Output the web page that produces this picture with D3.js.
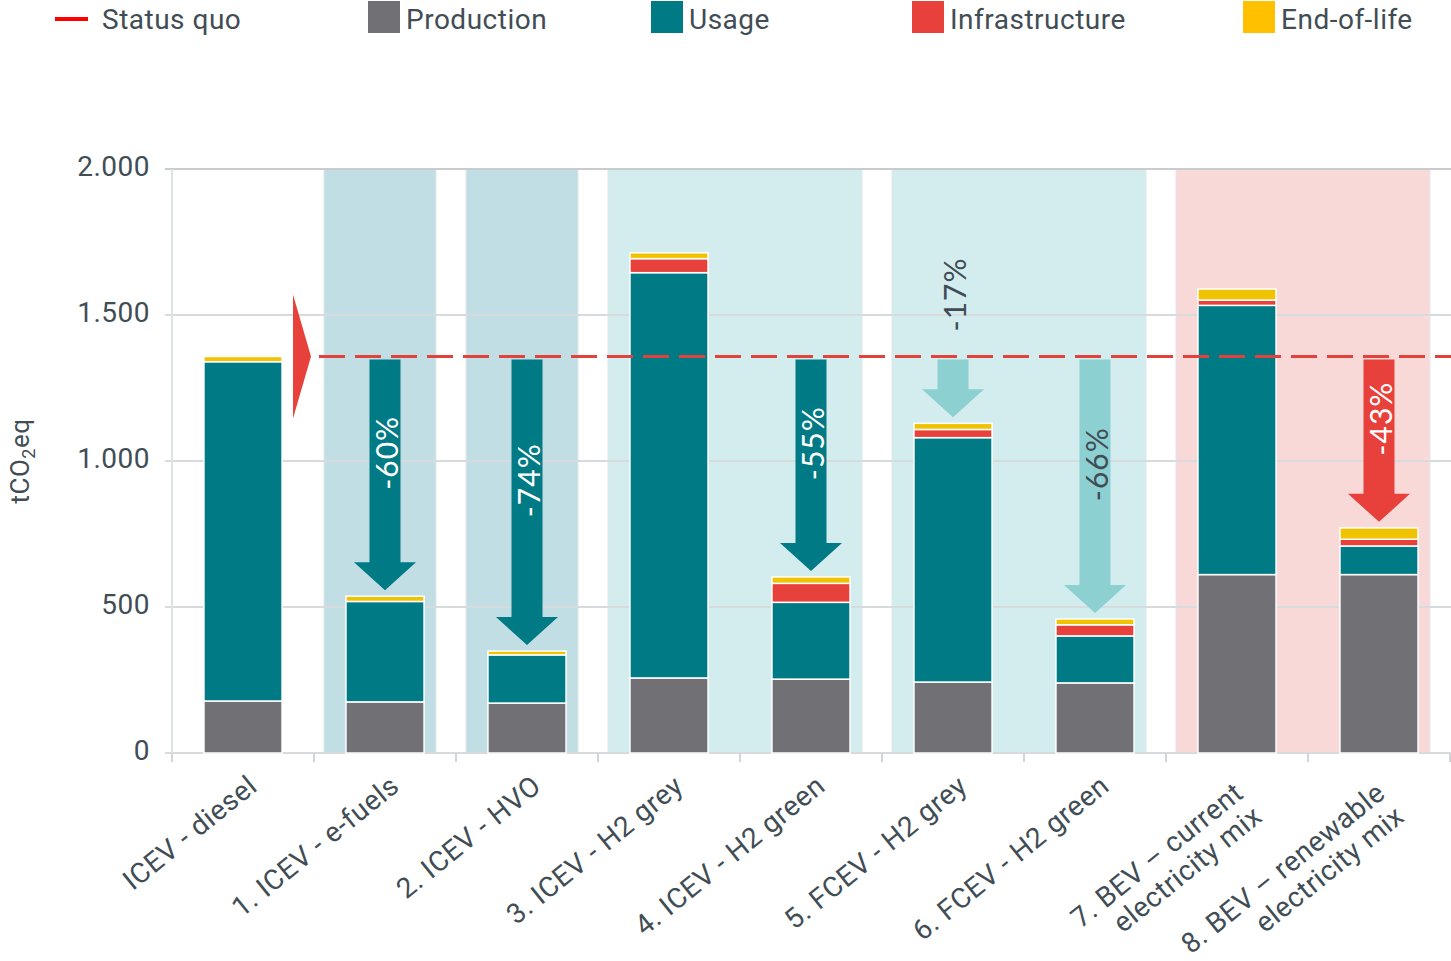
<!DOCTYPE html>
<html>
<head>
<meta charset="utf-8">
<script src="https://cdn.jsdelivr.net/npm/d3@7"></script>
<style>
  body { margin: 0; background: #fff; }
  text { font-family: Roboto, "Noto Sans", sans-serif; fill: #414d55; letter-spacing: 0.5px; }
</style>
</head>
<body>
<div class="container"></div>
<script>
// chart values
var categories = [
  ["ICEV - diesel"],
  ["1. ICEV - e-fuels"],
  ["2. ICEV - HVO"],
  ["3. ICEV - H2 grey"],
  ["4. ICEV - H2 green"],
  ["5. FCEV - H2 grey"],
  ["6. FCEV - H2 green"],
  ["7. BEV \u2013 current", "electricity mix"],
  ["8. BEV \u2013 renewable", "electricity mix"]
];
var production     = [178, 175, 171, 257, 253, 243, 240, 611, 611];
var usage          = [1162, 344, 165, 1388, 263, 837, 161, 922, 98];
var infrastructure = [0, 0, 0, 48, 65, 28, 38, 18, 23];
var endOfLife      = [18, 18, 13, 20, 22, 21, 20, 38, 39];
var statusQuo = 1358;

var yTicks = [0, 500, 1000, 1500, 2000];

// reduction arrows: which bar, label, style
var arrowBars   = [1, 2, 4, 5, 6, 8];
var arrowLabels = ["-60%", "-74%", "-55%", "-17%", "-66%", "-43%"];
var arrowStyles = ["dark", "dark", "dark", "light", "light", "red"];

// shaded background groups (first and last bar index)
var shadeGroups = [[1, 1], [2, 2], [3, 4], [5, 6], [7, 8]];
var shadeStyles = ["blue", "blue", "teal", "teal", "pink"];

var seriesKeys  = ["production", "usage", "infrastructure", "eol"];
var seriesNames = ["Production", "Usage", "Infrastructure", "End-of-life"];

//-------------------------------------------------------------
var svgWidth = 1451;
var svgHeight = 961;

var plot = { left: 172, right: 1450, top: 169, bottom: 753 };

var colors = {
  production: "#717175",
  usage: "#007a84",
  infrastructure: "#e8403a",
  eol: "#f0c300"
};
var arrowColors = { dark: "#007a84", light: "#8dd0d2", red: "#e8403a" };
var arrowTextColors = { dark: "#ffffff", light: "#414d55", red: "#ffffff" };
var shadeColors = { blue: "#c2dee5", teal: "#d3ecee", pink: "#f9d9d8" };

var svg = d3.select(".container")
  .append("svg")
  .attr("width", svgWidth)
  .attr("height", svgHeight);

var x = d3.scaleBand()
  .domain(d3.range(categories.length))
  .range([plot.left, plot.right])
  .padding(0);

var y = d3.scaleLinear()
  .domain([0, 2000])
  .range([plot.bottom, plot.top]);

var barWidth = x.bandwidth() * 0.55;
function cx(i) { return x(i) + x.bandwidth() / 2; }

var de = d3.formatLocale({ decimal: ",", thousands: ".", grouping: [3], currency: ["", "\u20ac"] });
var fmt = de.format(",d");

// Shaded groups
//-------------------------------------------------------------
svg.append("g").selectAll("rect")
  .data(shadeGroups)
  .enter()
  .append("rect")
  .attr("x", d => x(d[0]) + 10)
  .attr("y", y(2000))
  .attr("width", d => x(d[1]) + x.bandwidth() - 20 - (x(d[0]) + 10))
  .attr("height", y(0) - y(2000))
  .attr("fill", (d, i) => shadeColors[shadeStyles[i]])
  .attr("stroke", "#e2e8ea")
  .attr("stroke-width", 1);

// Grid lines + y axis
//-------------------------------------------------------------
svg.append("g").selectAll("line")
  .data(yTicks)
  .enter()
  .append("line")
  .attr("x1", plot.left - 7)
  .attr("x2", svgWidth)
  .attr("y1", d => y(d))
  .attr("y2", d => y(d))
  .attr("stroke", d => d === 2000 ? "#c9cccf" : "#d7dbde")
  .attr("stroke-width", 2);

svg.append("line")
  .attr("x1", plot.left).attr("x2", plot.left)
  .attr("y1", y(2000)).attr("y2", y(0) + 8)
  .attr("stroke", "#dde2e3")
  .attr("stroke-width", 2);

var yAxis = svg.append("g")
  .attr("transform", `translate(${plot.left}, 0)`)
  .call(d3.axisLeft(y).tickValues(yTicks).tickSize(0).tickPadding(22).tickFormat(fmt));
yAxis.select(".domain").remove();
yAxis.selectAll("text")
  .attr("dy", "0.22em")
  .style("font-family", "Roboto, sans-serif")
  .style("font-size", "28px")
  .attr("fill", "#414d55");

// x ticks at band boundaries
var bounds = d3.range(categories.length).map(i => x(i)).concat([plot.right]);
svg.append("g").selectAll("line")
  .data(bounds)
  .enter()
  .append("line")
  .attr("x1", d => d).attr("x2", d => d)
  .attr("y1", y(0)).attr("y2", y(0) + 9)
  .attr("stroke", "#d2d6d9")
  .attr("stroke-width", 2);

// Stacked bars
//-------------------------------------------------------------
var rows = categories.map((c, i) => ({
  production: production[i],
  usage: usage[i],
  infrastructure: infrastructure[i],
  eol: endOfLife[i]
}));

var stacked = d3.stack().keys(seriesKeys)(rows);

svg.append("g").selectAll("g")
  .data(stacked)
  .enter()
  .append("g")
  .attr("fill", d => colors[d.key])
  .selectAll("rect")
  .data(d => d.map((v, i) => ({ v: v, i: i })))
  .enter()
  .append("rect")
  .filter(d => d.v[1] - d.v[0] > 0)
  .attr("x", d => cx(d.i) - barWidth / 2)
  .attr("y", d => y(d.v[1]))
  .attr("width", barWidth)
  .attr("height", d => y(d.v[0]) - y(d.v[1]))
  .attr("stroke", "#ffffff")
  .attr("stroke-width", 1.5);

// Status quo line + marker
//-------------------------------------------------------------
var ySq = y(statusQuo);
svg.append("line")
  .attr("x1", 319).attr("x2", svgWidth)
  .attr("y1", ySq).attr("y2", ySq)
  .attr("stroke", "#e2423c")
  .attr("stroke-width", 3)
  .attr("stroke-dasharray", "26,10");

svg.append("path")
  .attr("d", `M293,${ySq - 62} L311,${ySq} L293,${ySq + 62} Z`)
  .attr("fill", "#e8403a");

// Arrows
//-------------------------------------------------------------
function arrowPath(ax, y0, y1) {
  var sw = 15.5, hw = 31, hl = 28;
  return `M${ax - sw},${y0} L${ax + sw},${y0} L${ax + sw},${y1 - hl} L${ax + hw},${y1 - hl}` +
    ` L${ax},${y1} L${ax - hw},${y1 - hl} L${ax - sw},${y1 - hl} Z`;
}

arrowBars.forEach(function(b, k) {
  var total = production[b] + usage[b] + infrastructure[b] + endOfLife[b];
  var y0 = ySq + 3;
  var y1 = y(total) - 6;
  var ax = cx(b);
  svg.append("path")
    .attr("d", arrowPath(ax, y0, y1))
    .attr("fill", arrowColors[arrowStyles[k]]);

  var shaftEnd = y1 - 28;
  var outside = (shaftEnd - y0) < 80;
  var ly = outside ? ySq - 62 : (y0 + shaftEnd) / 2 - 8;
  svg.append("text")
    .attr("transform", `translate(${ax + 1}, ${ly}) rotate(-90)`)
    .attr("text-anchor", "middle")
    .attr("dominant-baseline", "central")
    .style("font-family", "Lato, sans-serif")
    .style("font-size", "30px")
    .style("letter-spacing", "1px")
    .style("fill", outside ? "#414d55" : arrowTextColors[arrowStyles[k]])
    .text(arrowLabels[k]);
});

// X labels
//-------------------------------------------------------------
categories.forEach(function(lines, i) {
  var dx = lines.length > 1 ? 8 : 16;
  var dy = lines.length > 1 ? 796 : 789;
  var t = svg.append("text")
    .attr("transform", `translate(${cx(i) + dx}, ${dy}) rotate(-39)`)
    .attr("text-anchor", "end")
    .style("font-size", "28px")
    .style("letter-spacing", "0.6px");
  lines.forEach(function(l, j) {
    t.append("tspan")
      .attr("x", 0)
      .attr("dy", j === 0 ? 0 : "1.08em")
      .text(l);
  });
});

// y label
svg.append("text")
  .attr("transform", `translate(29, ${(plot.top + plot.bottom) / 2}) rotate(-90)`)
  .attr("text-anchor", "middle")
  .style("font-size", "26px")
  .html('tCO<tspan dy="6" font-size="18px">2</tspan><tspan dy="-6">eq</tspan>');

// Legend
//-------------------------------------------------------------
var legend = svg.append("g");
legend.append("line")
  .attr("x1", 55).attr("x2", 88)
  .attr("y1", 19).attr("y2", 19)
  .attr("stroke", "#ff0000")
  .attr("stroke-width", 4);
legend.append("text")
  .attr("x", 102).attr("y", 29)
  .style("font-size", "28px")
  .text("Status quo");

var legendX = [368, 651, 912, 1243];
var legendColors = ["#717175", "#007a84", "#e8403a", "#ffc000"];
seriesNames.forEach(function(name, i) {
  legend.append("rect")
    .attr("x", legendX[i]).attr("y", 1)
    .attr("width", 32).attr("height", 32)
    .attr("fill", legendColors[i]);
  legend.append("text")
    .attr("x", legendX[i] + 38).attr("y", 29)
    .style("font-size", "28px")
    .text(name);
});
</script>
</body>
</html>
